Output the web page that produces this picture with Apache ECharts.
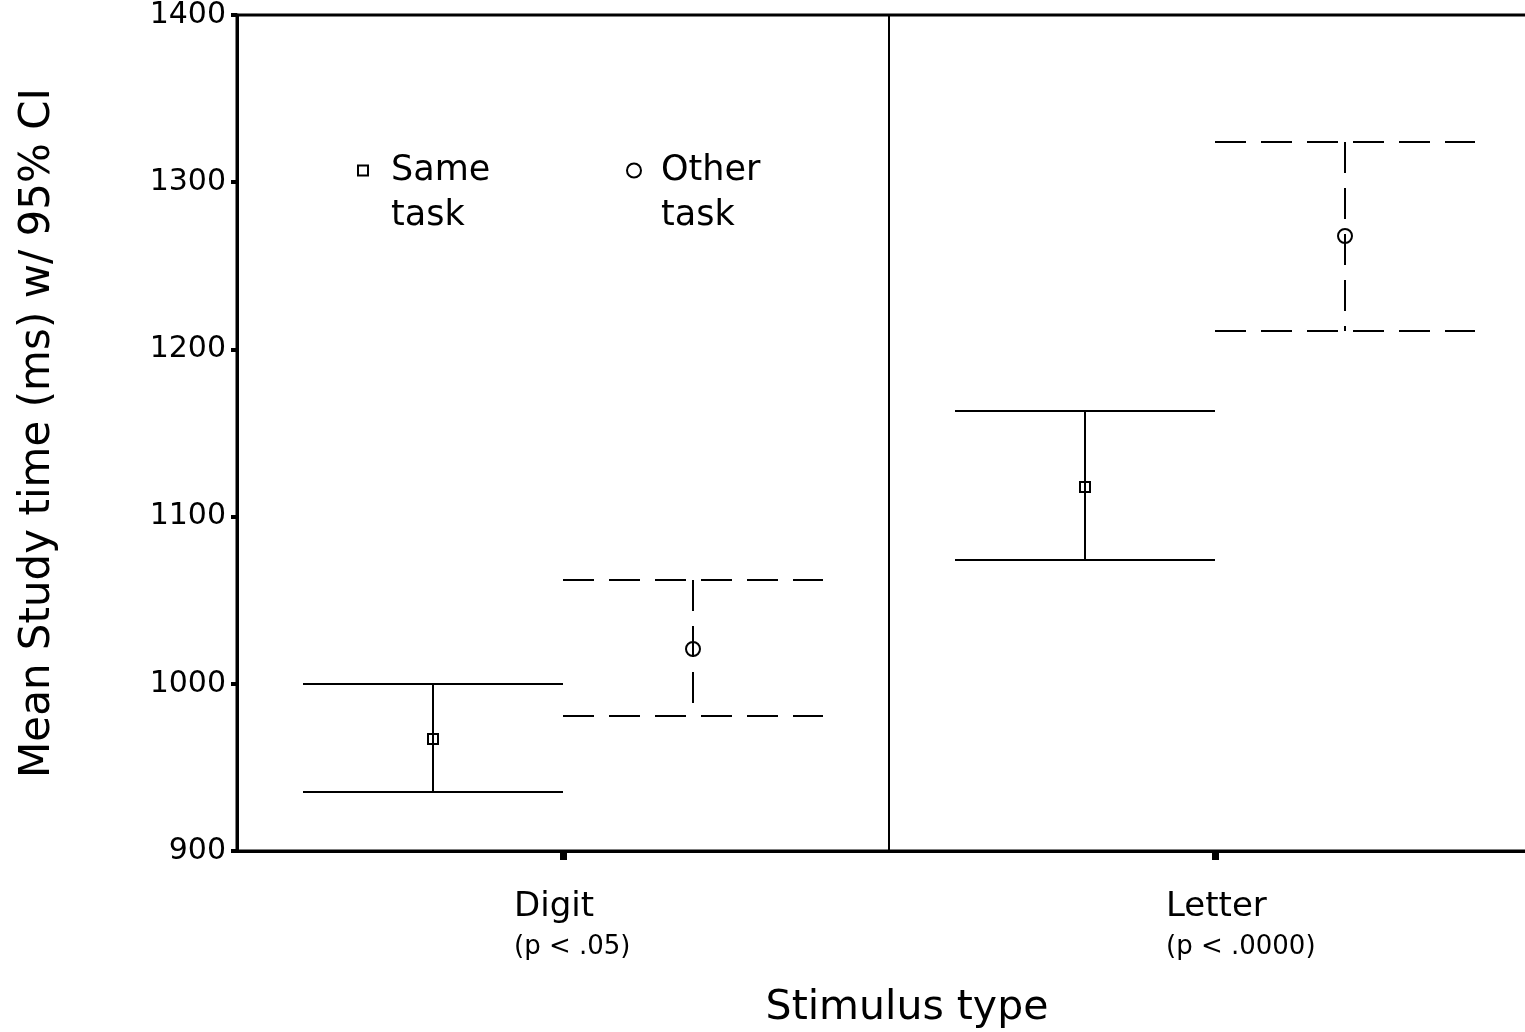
<!DOCTYPE html>
<html><head><meta charset="utf-8">
<script src="https://cdn.jsdelivr.net/npm/echarts@6/dist/echarts.min.js"></script>
<style>html,body{margin:0;padding:0;background:#fff}#c{width:1525px;height:1032px}</style>
</head><body><div id="c"></div>
<script>
const categories = ['Digit', 'Letter'];
const pLabels = ['(p < .05)', '(p < .0000)'];
const seriesNames = ['Same task', 'Other task'];
const sameMean = [967, 1118];
const sameLow = [935, 1074];
const sameHigh = [1000, 1163];
const otherMean = [1021, 1268];
const otherLow = [981, 1211];
const otherHigh = [1062, 1324];
const yMin = 900, yMax = 1400, yStep = 100;

const FONT = 'DejaVu Sans';

function rows(low, mean, high) {
  return categories.map((c, i) => [i, low[i], mean[i], high[i]]);
}

function makeRender(offset, dashed, symbol) {
  return function (params, api) {
    const ci = api.value(0);
    const band = api.size([1, 0])[0];
    const pMean = api.coord([ci, api.value(2)]);
    const pLow = api.coord([ci, api.value(1)]);
    const pHigh = api.coord([ci, api.value(3)]);
    const x = Math.round(pMean[0] + offset * band);
    const half = Math.round(0.2 * band);
    const yH = Math.round(pHigh[1]), yL = Math.round(pLow[1]), yM = Math.round(pMean[1]);
    const ls = { stroke: '#000', lineWidth: 2, fill: null, lineDash: dashed ? [31, 15] : null };
    const children = [
      { type: 'line', shape: { x1: x, y1: yH, x2: x, y2: yL }, style: ls },
      { type: 'line', shape: { x1: x - half, y1: yH, x2: x + half, y2: yH }, style: ls },
      { type: 'line', shape: { x1: x - half, y1: yL, x2: x + half, y2: yL }, style: ls }
    ];
    const ms = { stroke: '#000', lineWidth: 2, fill: null };
    if (symbol === 'rect') {
      children.push({ type: 'rect', shape: { x: x - 5, y: yM - 5, width: 10, height: 10 }, style: ms });
    } else {
      children.push({ type: 'circle', shape: { cx: x, cy: yM, r: 7 }, style: ms });
    }
    return { type: 'group', children };
  };
}

const chart = echarts.init(document.getElementById('c'), null, { renderer: 'canvas' });

const legendText = (pl) => ({
  fontFamily: FONT, fontSize: 35, lineHeight: 45, color: '#000', padding: [0, 0, 0, pl]
});

chart.setOption({
  animation: false,
  backgroundColor: '#fff',
  grid: {
    left: 237, top: 15, bottom: 181, width: 1304,
    outerBoundsMode: 'none', containLabel: false,
    show: true, borderColor: '#000', borderWidth: 3, backgroundColor: 'transparent'
  },
  legend: [
    {
      left: 352, top: 98, orient: 'horizontal', itemWidth: 10, itemHeight: 10,
      selectedMode: false,
      data: [{ name: seriesNames[0], icon: 'rect', itemStyle: { color: 'transparent', borderColor: '#000', borderWidth: 2 } }],
      formatter: (n) => '\n' + n.replace(' ', '\n'),
      textStyle: legendText(18)
    },
    {
      left: 621, top: 98, orient: 'horizontal', itemWidth: 14, itemHeight: 14,
      selectedMode: false,
      data: [{ name: seriesNames[1], icon: 'circle', itemStyle: { color: 'transparent', borderColor: '#000', borderWidth: 2 } }],
      formatter: (n) => '\n' + n.replace(' ', '\n'),
      textStyle: legendText(15)
    }
  ],
  xAxis: {
    type: 'category',
    data: categories,
    boundaryGap: true,
    name: 'Stimulus type',
    nameLocation: 'middle',
    nameGap: 137,
    nameTextStyle: { fontFamily: FONT, fontSize: 41, color: '#000', padding: [0, 0, 0, 36] },
    axisLine: { show: true, lineStyle: { color: '#000', width: 3 } },
    axisTick: { show: true, alignWithLabel: true, length: 9, lineStyle: { color: '#000', width: 7 } },
    splitLine: { show: true, lineStyle: { color: '#000', width: 2 } },
    axisLabel: {
      margin: 36,
      align: 'center',
      formatter: (v, i) => '{a|' + v + '}\n{b|' + pLabels[i] + '}',
      rich: {
        a: { fontFamily: FONT, fontSize: 34, lineHeight: 40, width: 98, align: 'left', color: '#000' },
        b: { fontFamily: FONT, fontSize: 26, lineHeight: 40, width: 98, align: 'left', color: '#000' }
      }
    }
  },
  yAxis: {
    type: 'value',
    min: yMin, max: yMax, interval: yStep,
    name: 'Mean Study time (ms) w/ 95% CI',
    nameLocation: 'middle',
    nameRotate: 90,
    nameGap: 178,
    nameTextStyle: { fontFamily: FONT, fontSize: 42, color: '#000' },
    axisLine: { show: true, lineStyle: { color: '#000', width: 3 } },
    axisTick: { show: true, length: 6, lineStyle: { color: '#000', width: 4 } },
    splitLine: { show: false },
    axisLabel: { margin: 11, fontFamily: FONT, fontSize: 30, color: '#000', formatter: (v) => String(v) }
  },
  series: [
    {
      type: 'custom', name: seriesNames[0],
      renderItem: makeRender(-0.2, false, 'rect'),
      encode: { x: 0, y: [1, 2, 3] },
      itemStyle: { color: '#000' },
      data: rows(sameLow, sameMean, sameHigh)
    },
    {
      type: 'custom', name: seriesNames[1],
      renderItem: makeRender(0.2, true, 'circle'),
      encode: { x: 0, y: [1, 2, 3] },
      itemStyle: { color: '#000' },
      data: rows(otherLow, otherMean, otherHigh)
    }
  ]
});
</script>
</body></html>
